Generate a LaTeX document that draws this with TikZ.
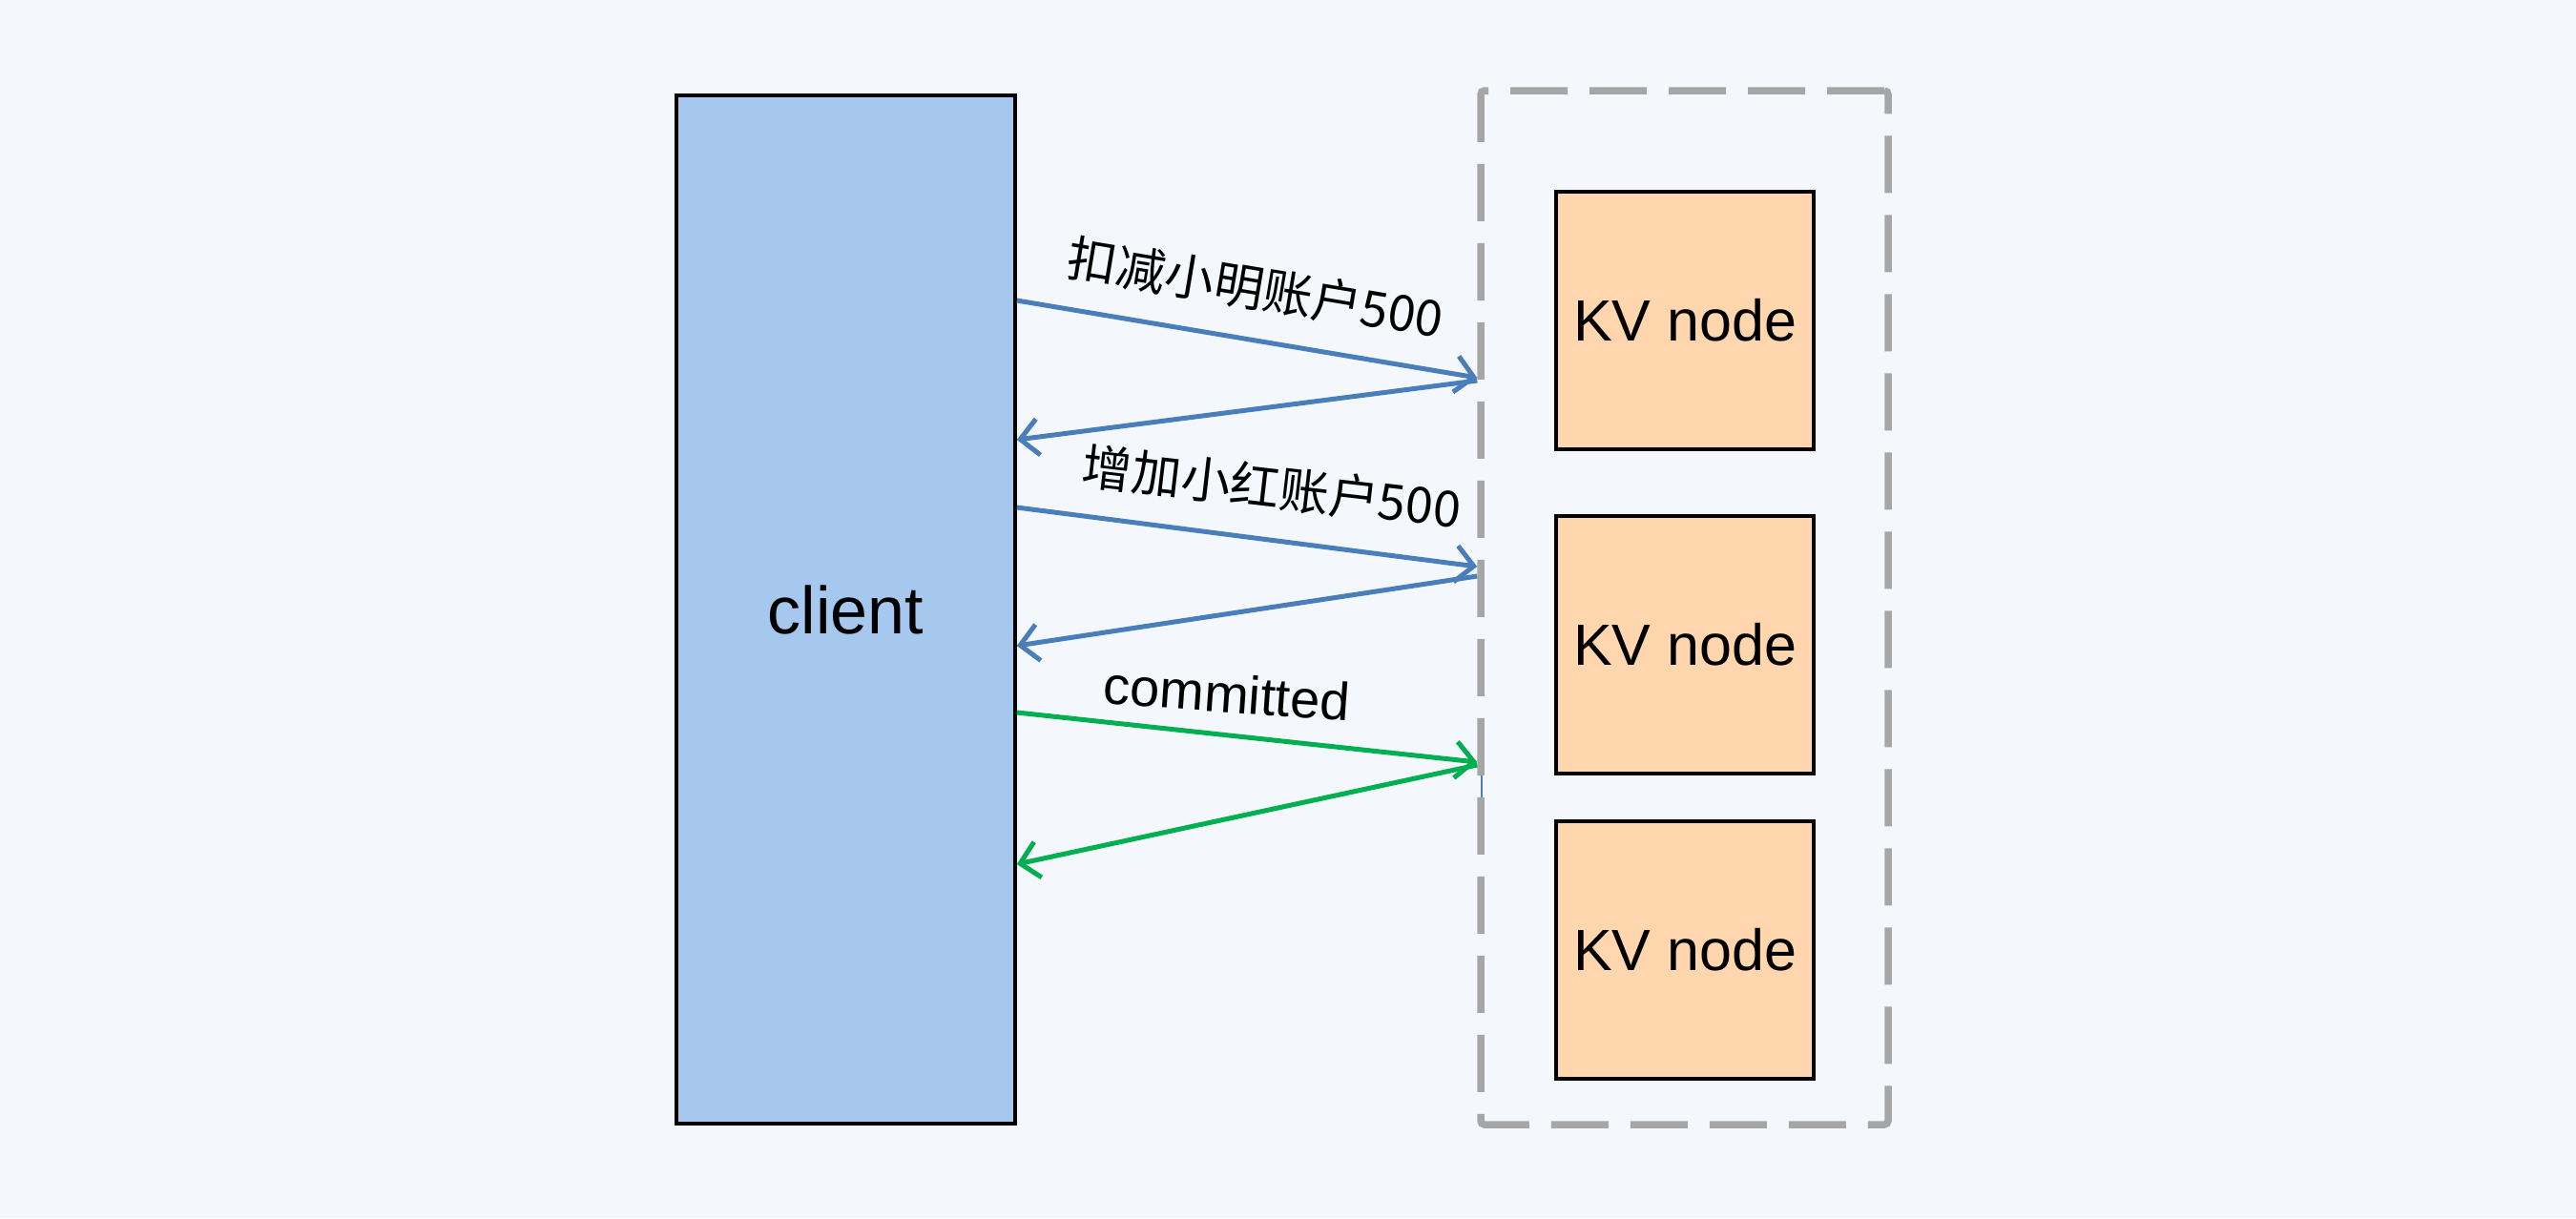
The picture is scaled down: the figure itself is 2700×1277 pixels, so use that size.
\documentclass[tikz,border=0pt]{standalone}
\usepackage{fontspec}
\setmainfont{Liberation Sans}
\newfontfamily\cjk{Noto Sans CJK SC}
\usetikzlibrary{arrows.meta}
\definecolor{bg}{RGB}{244,248,252}
\definecolor{clientfill}{RGB}{166,200,238}
\definecolor{kvfill}{RGB}{255,214,174}
\definecolor{dashgray}{RGB}{166,166,166}
\definecolor{arrblue}{RGB}{74,126,187}
\definecolor{arrgreen}{RGB}{0,176,80}
\begin{document}
\begin{tikzpicture}[x=1pt,y=-1pt,
  boxstyle/.style={draw=black,line width=3.5pt,inner sep=0pt},
  kvbox/.style={boxstyle,fill=kvfill,minimum width=270pt,minimum height=270pt,font=\fontsize{61}{70}\selectfont},
  grpbox/.style={draw=dashgray,line width=7.5pt,dash pattern=on 60pt off 23pt,rounded corners=4pt,inner sep=0pt,minimum width=427pt,minimum height=1084pt},
  arr/.style={line width=5pt,-{Straight Barb[length=19pt,width=38pt,line width=5pt]}},
  lbl/.style={inner sep=0pt}
]
\useasboundingbox (0,0) rectangle (2700,1277);
\fill[bg] (0,0) rectangle (2700,1277);

\node[boxstyle,fill=clientfill,minimum width=355pt,minimum height=1078pt,font=\fontsize{70}{84}\selectfont] (client) at (886.5,639) {client};

\node[kvbox] (kv1) at (1766,336) {KV node};
\node[kvbox] (kv2) at (1766,676) {KV node};
\node[kvbox] (kv3) at (1766,996) {KV node};

\draw[arrblue,line width=2.5pt] (1553,758) coordinate (bl1) -- (1553,872) coordinate (bl2);

\node[grpbox] (grp) at (1765.5,637) {};

\draw[arr,arrblue] (client.east |- 0,315) -- (grp.west |- 0,396);
\draw[arr,arrblue] (grp.west |- 0,399) -- (client.east |- 0,461);
\draw[arr,arrblue] (client.east |- 0,532) -- (grp.west |- 0,594);
\draw[arr,arrblue] (grp.west |- 0,604) -- (client.east |- 0,677);
\draw[arr,arrgreen] (client.east |- 0,747) -- (grp.west |- 0,799);
\draw[arr,arrgreen] (grp.west |- 0,802) -- (client.east |- 0,906);

\node[lbl,rotate=-9.5,font=\cjk\fontsize{52}{60}\selectfont] (l1) at (1316,302) {扣减小明账户500};
\node[lbl,rotate=-6.6,font=\cjk\fontsize{52}{60}\selectfont] (l2) at (1333,511) {增加小红账户500};
\node[lbl,rotate=-4.1,font=\fontsize{56}{64}\selectfont] (l3) at (1286,727) {committed};
\end{tikzpicture}
\end{document}
